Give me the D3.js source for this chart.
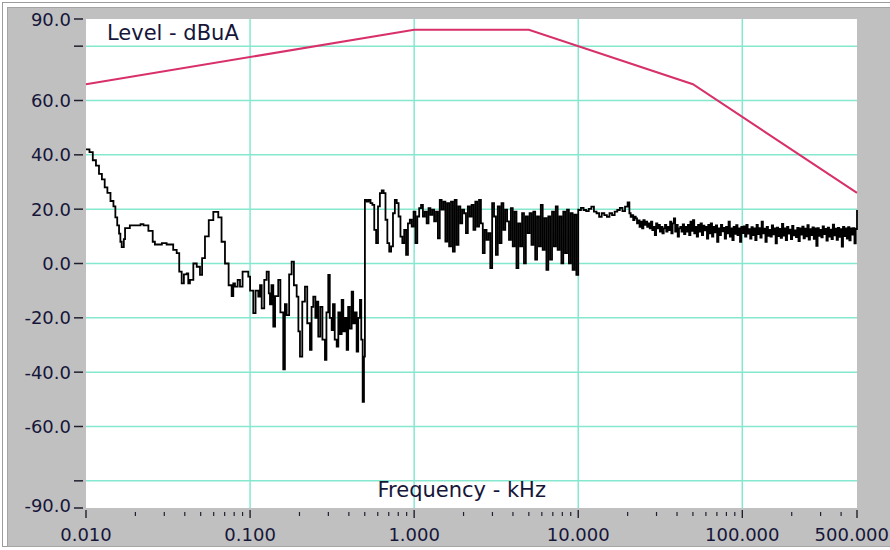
<!DOCTYPE html>
<html>
<head>
<meta charset="utf-8">
<script src="https://cdn.jsdelivr.net/npm/d3@7"></script>
<style>
  body { margin: 0; background: #ffffff; }
  svg { display: block; font-family: "DejaVu Sans", sans-serif; }
  .tickLabel { font-size: 18px; fill: #16163a; }
  .plotLabel { font-size: 21px; fill: #16163a; }
</style>
</head>
<body>
<div id="graph"></div>
<script>

// 
// Data...
// 

var freqMin  = 0.01;
var freqMax  = 500;
var levelMin = -90;
var levelMax = 90;

var yTickValues = [90, 80, 60, 40, 20, 0, -20, -40, -60, -80, -90];
var yTickLabels = ['90.0', '', '60.0', '40.0', '20.0', '0.0', '-20.0', '-40.0', '-60.0', '', '-90.0'];
var yGridValues = [80, 60, 40, 20, 0, -20, -40, -60, -80];

var xTickValues = [0.01, 0.1, 1, 10, 100, 500];
var xTickLabels = ['0.010', '0.100', '1.000', '10.000', '100.000', '500.000'];
var xGridValues = [0.1, 1, 10, 100];

// limit line (red)
var limitFreq  = [0.01, 1, 5, 50, 500];
var limitLevel = [66, 86, 86, 66, 26];

// measured trace, low band: [kHz, dBuA]
var traceLow = [
    [0.0100, 42], [0.0105, 41], [0.0110, 38], [0.0115, 36], [0.0120, 33], [0.0125, 31],
    [0.0130, 28], [0.0135, 26], [0.0141, 23], [0.0147, 21], [0.0151, 17], [0.0155, 14],
    [0.0159, 11], [0.0162, 8], [0.0165, 6], [0.0170, 9], [0.0173, 13], [0.0185, 14],
    [0.0200, 14], [0.0215, 14.5], [0.0224, 14], [0.0240, 12], [0.0255, 8], [0.0263, 7],
    [0.0290, 7.5], [0.0310, 7], [0.0340, 5], [0.0357, 3.8], [0.0370, -3], [0.0383, -7.3],
    [0.0395, -4], [0.0411, -3.6], [0.0420, -7.3], [0.0430, -6], [0.0451, 0], [0.0473, -1.2],
    [0.0495, -4.2], [0.0510, 2], [0.0531, 10], [0.0560, 16], [0.0597, 19], [0.0620, 19],
    [0.0640, 17], [0.0670, 8], [0.0703, 0], [0.0740, -8], [0.0772, -12], [0.0790, -7.3],
    [0.0809, -8.5], [0.0840, -6], [0.0868, -8.5], [0.0900, -3], [0.0931, -3], [0.0975, -4.8],
    [0.1000, -10], [0.1046, -18.3], [0.1080, -10], [0.1122, -12.2], [0.1150, -8], [0.1177, -16.5],
    [0.1220, -6], [0.1262, -3], [0.1300, -11], [0.1322, -15], [0.1350, -8], [0.1385, -23.2],
    [0.1420, -12], [0.1485, -6], [0.1530, -18], [0.1593, -39], [0.1630, -15], [0.1671, -19],
    [0.1730, -4], [0.1792, 0.7], [0.1850, -8], [0.1923, -12.2], [0.1970, -25], [0.2014, -34.3],
    [0.2080, -14], [0.2160, -8.5], [0.2230, -22], [0.2317, -31.8], [0.2370, -16], [0.2428, -12.2],
    [0.2500, -20], [0.2560, -14], [0.2604, -26.9], [0.2680, -16], [0.2760, -28], [0.2860, -35.5],
    [0.2920, -18], [0.2996, -4.2], [0.3060, -20], [0.3143, -24.5], [0.3200, -15], [0.3280, -28],
    [0.3372, -30.6], [0.3450, -18], [0.3530, -26], [0.3616, -13.4], [0.3700, -25], [0.3790, -20],
    [0.3879, -31.8], [0.3960, -16], [0.4050, -24], [0.4160, -10.4], [0.4250, -22], [0.4350, -18],
    [0.4462, -32.4], [0.4560, -20], [0.4674, -13.4], [0.4760, -28], [0.4855, -50.9], [0.4944, -34.3]
];

// mid band 0.5 .. 10 kHz, evenly spaced on the log axis
var midFrom = 0.501;
var midTo   = 10;
var midLevel = [
    23.4, 22.8, 23.4, 22.2, 21.6, 12.4, 7.5, 21.0, 25.9, 26.9, 25.9, 16.1, 7.5, 4.4, 6.3, 18.5,
    23.4, 22.2, 17.3, 9.9, 7.5, 12.4, 3.2, 14.8, 16.1, 13.6, 19.1, 7.5, 17.3, 20.4, 21.6, 17.3,
    19.1, 14.8, 20.4, 17.9, 19.8, 15.5, 19.1, 9.3, 23.4, 19.8, 22.8, 8.1, 22.2, 6.3, 22.8, 4.4,
    23.4, 6.9, 21.0, 14.8, 19.8,
    18.5, 11.2, 21.0, 17.3, 21.6, 12.4, 22.8, 13.6, 23.4, 14.8, 3.8, 12.4, 8.7, 11.2, -1.7, 22.2,
    17.3, 3.2, 21.0, 7.5, 22.2, 12.4, 19.8, 15.5, 8.7, 20.4, 6.3, 19.1, -1.7, 14.8, 6.3, 18.5,
    0.1, 17.3, 11.2, 18.5, 6.9, 19.1, 1.4, 17.3, 6.3, 21.6, 5.0, 16.7, -2.3, 17.3, 1.4, 19.1,
    6.3, 21.0, 5.0, 17.3, 0.1, 19.1, 3.8, 19.8, 0.1, 18.5, -2.3, 18.0, -4.2, 19.8
];

// 10 .. 20 kHz, quieter stretch
var high1From = 10.02;
var high1To   = 20;
var high1Level = [
    19.7, 20.5, 19.7, 19.3, 20.1, 20.9, 19.1, 18.5, 17.2, 18.5, 17.8, 17.2, 18.5, 17.8, 19.1, 19.7,
    20.5, 19.3, 20.9, 22.5
];

// 20 .. 500 kHz, dense noise band
var high2From = 20.5;
var high2To   = 500;
var high2Level = [
    18.5, 17.2, 17.8, 16.0, 17.2, 16.6, 14.8, 15.9, 13.5, 15.4, 12.9, 16.0, 14.2, 15.4, 13.5, 14.8,
    12.9, 15.4, 12.3, 13.5, 10.5, 14.8, 12.9, 14.2, 11.7, 13.5, 11.1, 12.9, 14.2, 11.7, 13.5, 12.3,
    15.4, 11.1, 14.8,
    16.6, 11.7, 14.2, 9.9, 12.9, 13.5, 11.7, 14.4, 10.8, 13.5, 11.7, 14.2, 10.5, 15.4, 12.0, 16.0,
    11.1, 13.5, 9.9, 14.2, 11.7, 14.8, 10.5, 13.9, 12.2, 13.5, 9.2, 14.2, 11.1, 14.8, 9.9, 13.5,
    11.5, 14.0, 8.0, 12.9, 10.5, 14.2, 11.8, 13.1, 9.2, 13.5, 11.1, 15.4, 9.9, 12.9, 8.6, 13.5,
    10.9, 14.1, 10.5, 12.9, 8.0, 13.5, 11.2,
    13.7, 9.9, 14.2, 11.0, 12.6, 9.2, 13.4, 10.5, 12.9, 8.6, 14.2, 10.8, 13.0, 9.5, 15.4, 11.1,
    12.8, 8.0, 13.5, 10.2, 12.4, 9.9, 14.0, 10.7, 12.9, 7.4, 13.2, 10.1, 12.7, 9.4, 14.6, 10.3,
    12.9, 8.6, 13.5, 11.0, 12.5, 9.0, 13.8, 10.4, 12.2, 9.7, 13.1, 8.2, 12.9, 10.6, 13.6, 9.3,
    12.8, 10.0, 14.1, 8.8, 12.6, 10.5, 13.3, 9.1, 12.9, 6.5, 13.0, 10.2, 12.4, 9.6, 13.7, 10.8,
    12.7, 8.4, 13.2, 9.9, 12.5, 9.0, 14.3, 10.4, 12.8, 8.7, 13.1, 9.8, 12.6, 6.2, 13.5, 10.1,
    12.9, 9.2, 13.4, 8.5, 12.9, 10.6, 13.0, 7.4, 12.7, 19.7
];


//
// D3 Stuff...
//
var margin = { top: 19, right: 33, bottom: 42, left: 86 };

var width  = 890 - margin.left - margin.right;
var height = 550 - margin.top  - margin.bottom;

var xScale = d3.scaleLog ()
               .domain ([freqMin, freqMax])
               .range ([0, width]);

var yScale = d3.scaleLinear ()
               .domain ([levelMin, levelMax])
               .range ([height, 0]);

// spread a band's samples evenly along the log axis
var bandPoints = function (fFrom, fTo, levels)
{
    var lo = Math.log10 (fFrom);
    var hi = Math.log10 (fTo);
    return levels.map (function (v, i) {
        return [Math.pow (10, lo + (hi - lo) * i / (levels.length - 1)), v];
    });
};

var trace = traceLow.concat (bandPoints (midFrom, midTo, midLevel))
                    .concat (bandPoints (high1From, high1To, high1Level))
                    .concat (bandPoints (high2From, high2To, high2Level));

var limit = limitFreq.map (function (f, i) { return [f, limitLevel[i]]; });

var line = d3.line ()
             .x (function (d) { return xScale (d[0]); })
             .y (function (d) { return yScale (d[1]); });

// the analyser draws its samples as a staircase
var stepLine = d3.line ()
                 .x (function (d) { return xScale (d[0]); })
                 .y (function (d) { return yScale (d[1]); })
                 .curve (d3.curveStepAfter);

var root = d3.select ('div#graph')
             .append ('svg')
             .attr ('width', 890)
             .attr ('height', 550);

// frame
root.append ('rect')
    .attr ('x', 2.5).attr ('y', 2.5)
    .attr ('width', 900).attr ('height', 544)
    .attr ('fill', 'none')
    .attr ('stroke', '#9c9c9c');

root.append ('rect')
    .attr ('x', 7.5).attr ('y', 7.5)
    .attr ('width', 900).attr ('height', 539)
    .attr ('fill', '#c0c0c0')
    .attr ('stroke', '#a4a4a4');

var svg = root.append ('g')
              .attr ('transform', 'translate(' + margin.left + ',' + margin.top + ')');

svg.append ('rect')
   .attr ('width', width)
   .attr ('height', height)
   .attr ('fill', '#ffffff');

// grid
svg.selectAll ('.gridY')
   .data (yGridValues)
   .enter ().append ('line')
   .attr ('x1', 0).attr ('x2', width)
   .attr ('y1', function (d) { return yScale (d); })
   .attr ('y2', function (d) { return yScale (d); })
   .attr ('stroke', '#86e7cf')
   .attr ('stroke-width', 1.5);

svg.selectAll ('.gridX')
   .data (xGridValues)
   .enter ().append ('line')
   .attr ('y1', 0).attr ('y2', height)
   .attr ('x1', function (d) { return xScale (d); })
   .attr ('x2', function (d) { return xScale (d); })
   .attr ('stroke', '#86e7cf')
   .attr ('stroke-width', 1.5);

// y axis ticks + labels
svg.selectAll ('.yTick')
   .data (yTickValues)
   .enter ().append ('line')
   .attr ('x1', -12).attr ('x2', -3)
   .attr ('y1', function (d) { return yScale (d); })
   .attr ('y2', function (d) { return yScale (d); })
   .attr ('stroke', '#202030')
   .attr ('stroke-width', 1.5);

svg.selectAll ('.yLabel')
   .data (yTickValues)
   .enter ().append ('text')
   .attr ('class', 'tickLabel')
   .attr ('x', -15)
   .attr ('y', function (d) { return yScale (d) + (d === levelMin ? 4 : 6.5); })
   .style ('text-anchor', 'end')
   .text (function (d, i) { return yTickLabels[i]; });

// x axis ticks
var minorTicks = [];
for (var dec = 0.01; dec < freqMax; dec *= 10)
    for (var m = 2; m <= 9; m++)
        if (m * dec < freqMax) minorTicks.push (m * dec);

svg.selectAll ('.xMinor')
   .data (minorTicks)
   .enter ().append ('line')
   .attr ('x1', function (d) { return xScale (d); })
   .attr ('x2', function (d) { return xScale (d); })
   .attr ('y1', height + 4).attr ('y2', height + 8)
   .attr ('stroke', '#202030')
   .attr ('stroke-width', 1.2);

svg.selectAll ('.xMajor')
   .data (xTickValues)
   .enter ().append ('line')
   .attr ('x1', function (d) { return xScale (d); })
   .attr ('x2', function (d) { return xScale (d); })
   .attr ('y1', height + 2).attr ('y2', height + 10)
   .attr ('stroke', '#202030')
   .attr ('stroke-width', 1.4);

// last label is pushed left so it stays inside the window
svg.selectAll ('.xLabel')
   .data (xTickValues)
   .enter ().append ('text')
   .attr ('class', 'tickLabel')
   .attr ('x', function (d, i) { return i === xTickValues.length - 1 ? 890 - margin.left - 1 : xScale (d); })
   .attr ('y', height + 33)
   .style ('text-anchor', function (d, i) { return i === xTickValues.length - 1 ? 'end' : 'middle'; })
   .text (function (d, i) { return xTickLabels[i]; });

// traces
svg.append ('path')
   .datum (trace)
   .attr ('d', stepLine)
   .attr ('fill', 'none')
   .attr ('stroke', '#000000')
   .attr ('stroke-width', 1.8);

svg.append ('path')
   .datum (limit)
   .attr ('d', line)
   .attr ('fill', 'none')
   .attr ('stroke', '#d8306a')
   .attr ('stroke-width', 2);

// in-plot labels
svg.append ('text')
   .attr ('class', 'plotLabel')
   .attr ('x', 21)
   .attr ('y', 21)
   .text ('Level - dBuA');

svg.append ('text')
   .attr ('class', 'plotLabel')
   .attr ('x', xScale (1.95))
   .attr ('y', height - 11)
   .style ('text-anchor', 'middle')
   .text ('Frequency - kHz');

</script>
</body>
</html>
